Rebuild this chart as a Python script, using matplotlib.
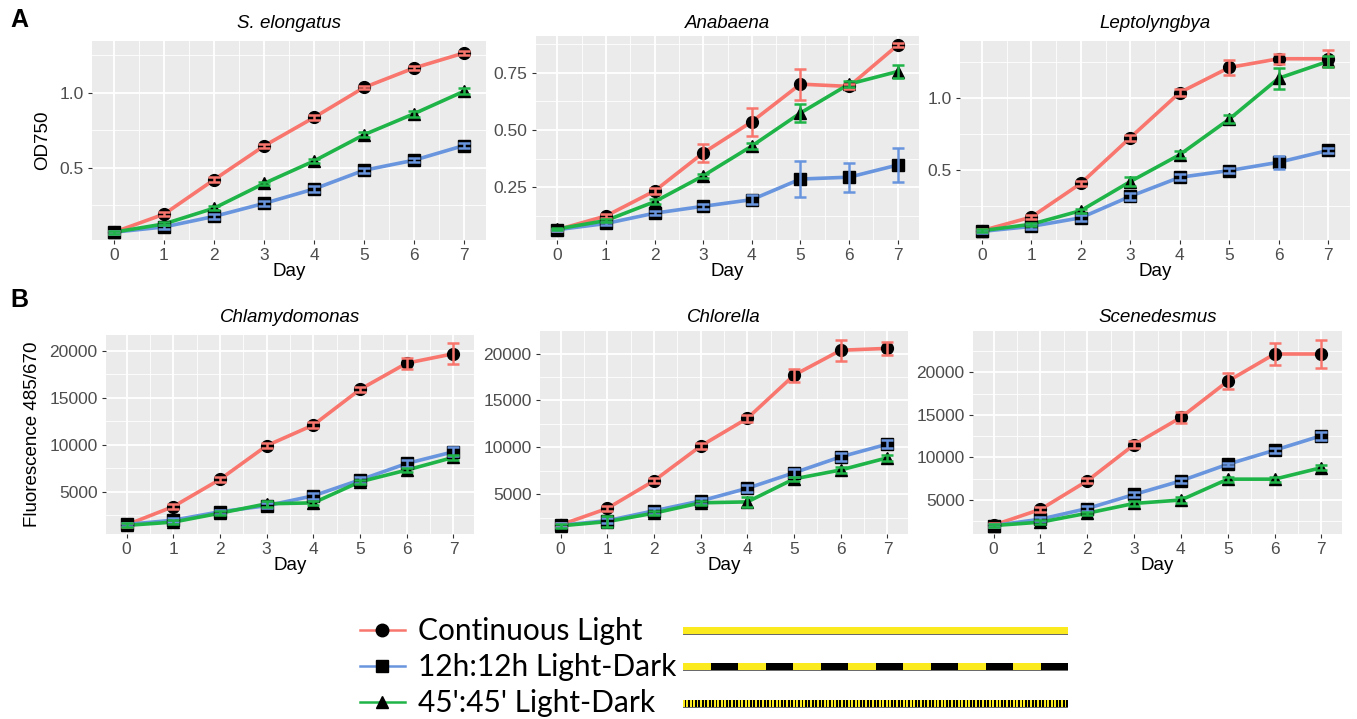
import numpy as np
import matplotlib
matplotlib.use("Agg")
import matplotlib.pyplot as plt
from matplotlib.lines import Line2D
from matplotlib.ticker import FixedLocator

plt.rcParams['font.family'] = ['Liberation Sans', 'DejaVu Sans']

days = [0, 1, 2, 3, 4, 5, 6, 7]
conditions = ["Continuous Light", "12h:12h Light-Dark", "45':45' Light-Dark"]

# ---- Panel A: OD750 ----
selong_cl = [0.07, 0.19, 0.42, 0.645, 0.835, 1.035, 1.165, 1.265]
selong_cl_err = [0.01, 0.015, 0.015, 0.012, 0.015, 0.012, 0.015, 0.012]
selong_12 = [0.07, 0.105, 0.175, 0.262, 0.358, 0.483, 0.55, 0.648]
selong_12_err = [0.01, 0.012, 0.015, 0.015, 0.02, 0.015, 0.015, 0.015]
selong_45 = [0.07, 0.125, 0.23, 0.395, 0.545, 0.72, 0.86, 1.01]
selong_45_err = [0.01, 0.01, 0.012, 0.01, 0.015, 0.015, 0.02, 0.02]

anab_cl = [0.065, 0.125, 0.234, 0.40, 0.536, 0.70, 0.69, 0.87]
anab_cl_err = [0.005, 0.01, 0.012, 0.041, 0.062, 0.068, 0.012, 0.008]
anab_12 = [0.065, 0.092, 0.137, 0.167, 0.196, 0.286, 0.294, 0.347]
anab_12_err = [0.005, 0.008, 0.01, 0.012, 0.02, 0.078, 0.064, 0.076]
anab_45 = [0.068, 0.105, 0.187, 0.30, 0.43, 0.574, 0.70, 0.755]
anab_45_err = [0.005, 0.008, 0.012, 0.01, 0.015, 0.038, 0.012, 0.03]

lepto_cl = [0.075, 0.17, 0.405, 0.725, 1.04, 1.215, 1.276, 1.276]
lepto_cl_err = [0.01, 0.015, 0.02, 0.02, 0.025, 0.05, 0.035, 0.06]
lepto_12 = [0.07, 0.105, 0.165, 0.315, 0.448, 0.495, 0.553, 0.636]
lepto_12_err = [0.01, 0.015, 0.02, 0.025, 0.02, 0.02, 0.045, 0.02]
lepto_45 = [0.075, 0.12, 0.215, 0.418, 0.606, 0.854, 1.14, 1.258]
lepto_45_err = [0.01, 0.01, 0.015, 0.03, 0.025, 0.03, 0.074, 0.04]

# ---- Panel B: Fluorescence 485/670 ----
chlamy_cl = [1450, 3400, 6300, 9900, 12100, 15900, 18700, 19700]
chlamy_cl_err = [200, 250, 250, 250, 300, 300, 600, 1100]
chlamy_12 = [1500, 1950, 2850, 3500, 4550, 6250, 8000, 9250]
chlamy_12_err = [200, 200, 200, 300, 300, 300, 400, 500]
chlamy_45 = [1400, 1750, 2700, 3700, 3800, 6050, 7300, 8650]
chlamy_45_err = [200, 200, 200, 300, 200, 200, 200, 300]

chlor_cl = [1750, 3500, 6450, 10150, 13100, 17700, 20350, 20550]
chlor_cl_err = [200, 300, 250, 300, 400, 700, 1100, 700]
chlor_12 = [1700, 2200, 3250, 4300, 5650, 7300, 9000, 10350]
chlor_12_err = [200, 300, 300, 300, 400, 400, 400, 400]
chlor_45 = [1650, 2100, 3000, 4100, 4200, 6650, 7600, 8900]
chlor_45_err = [200, 600, 200, 200, 500, 200, 300, 300]

scen_cl = [2050, 3900, 7250, 11500, 14700, 18950, 22150, 22150]
scen_cl_err = [200, 300, 300, 400, 600, 950, 1300, 1700]
scen_12 = [2000, 2750, 4000, 5650, 7250, 9200, 10850, 12550]
scen_12_err = [200, 200, 300, 300, 300, 200, 300, 450]
scen_45 = [2000, 2400, 3450, 4600, 5000, 7450, 7450, 8800]
scen_45_err = [200, 200, 200, 300, 300, 300, 300, 300]

colors = ['#F8766D', '#6895DE', '#1FB447']
markers = ['o', 's', '^']

W, H = 1357, 719
fig = plt.figure(figsize=(W / 100, H / 100), dpi=100)


def px_axes(x0, y0, x1, y1):
    return fig.add_axes([x0 / W, 1 - y1 / H, (x1 - x0) / W, (y1 - y0) / H])


panels = [
    dict(box=(92, 41, 486, 240), title='S. elongatus', ylim=(0.018, 1.345),
         major=[0.5, 1.0], minor=[0.25, 0.75, 1.25], fmt='{:.1f}',
         series=[(selong_cl, selong_cl_err), (selong_12, selong_12_err), (selong_45, selong_45_err)],
         ylabel='OD750', row=0),
    dict(box=(536, 36, 919, 240), title='Anabaena', ylim=(0.02, 0.91),
         major=[0.25, 0.5, 0.75], minor=[0.125, 0.375, 0.625, 0.875], fmt='{:.2f}',
         series=[(anab_cl, anab_cl_err), (anab_12, anab_12_err), (anab_45, anab_45_err)],
         ylabel=None, row=0),
    dict(box=(960, 41, 1350, 240), title='Leptolyngbya', ylim=(0.01, 1.40),
         major=[0.5, 1.0], minor=[0.25, 0.75, 1.25], fmt='{:.1f}',
         series=[(lepto_cl, lepto_cl_err), (lepto_12, lepto_12_err), (lepto_45, lepto_45_err)],
         ylabel=None, row=0),
    dict(box=(106, 335, 474, 534), title='Chlamydomonas', ylim=(480, 21700),
         major=[5000, 10000, 15000, 20000], minor=[2500, 7500, 12500, 17500], fmt='{:.0f}',
         series=[(chlamy_cl, chlamy_cl_err), (chlamy_12, chlamy_12_err), (chlamy_45, chlamy_45_err)],
         ylabel='Fluorescence 485/670', row=1),
    dict(box=(540, 331, 908, 534), title='Chlorella', ylim=(780, 22400),
         major=[5000, 10000, 15000, 20000], minor=[2500, 7500, 12500, 17500], fmt='{:.0f}',
         series=[(chlor_cl, chlor_cl_err), (chlor_12, chlor_12_err), (chlor_45, chlor_45_err)],
         ylabel=None, row=1),
    dict(box=(973, 331, 1342, 534), title='Scenedesmus', ylim=(1010, 24850),
         major=[5000, 10000, 15000, 20000], minor=[2500, 7500, 12500, 17500, 22500], fmt='{:.0f}',
         series=[(scen_cl, scen_cl_err), (scen_12, scen_12_err), (scen_45, scen_45_err)],
         ylabel=None, row=1),
]

title_y = [23, 317]
for p in panels:
    ax = px_axes(*p['box'])
    ax.set_facecolor('#EBEBEB')
    for s in ax.spines.values():
        s.set_visible(False)
    ax.set_xlim(-0.44, 7.44)
    ax.set_ylim(*p['ylim'])
    ax.xaxis.set_major_locator(FixedLocator(days))
    ax.xaxis.set_minor_locator(FixedLocator([d + 0.5 for d in days[:-1]]))
    ax.yaxis.set_major_locator(FixedLocator(p['major']))
    ax.yaxis.set_minor_locator(FixedLocator(p['minor']))
    ax.set_yticklabels([p['fmt'].format(v) for v in p['major']])
    ax.grid(which='major', color='white', lw=1.3, zorder=0)
    ax.grid(which='minor', color='white', lw=0.6, zorder=0)
    ax.set_axisbelow(True)
    ax.tick_params(which='major', length=3, width=0.8, color='#333333',
                   labelsize=12.5, labelcolor='#4D4D4D', pad=3)
    ax.tick_params(which='minor', length=0)
    for (vals, errs), c, m in zip(p['series'], colors, markers):
        ax.plot(days, vals, color=c, lw=2.6, zorder=2)
        ax.plot(days, vals, ls='none', marker=m, ms=8.5, mfc='black', mec='black', zorder=3)
        ax.errorbar(days, vals, yerr=errs, fmt='none', ecolor=c, elinewidth=1.8,
                    capsize=4.5, capthick=1.8, zorder=4)
    ax.set_xlabel('Day', fontsize=13.5, labelpad=0, color='black')
    if p['ylabel']:
        ax.set_ylabel(p['ylabel'], fontsize=13.5, labelpad=6, color='black')
    x0, _, x1, _ = p['box']
    fig.text((x0 + x1) / 2 / W, 1 - title_y[p['row']] / H, p['title'], style='italic',
             fontsize=13.5, ha='center', va='center')

fig.text(10 / W, 1 - 20 / H, 'A', fontsize=18, fontweight='bold', ha='left', va='center')
fig.text(10 / W, 1 - 300 / H, 'B', fontsize=18, fontweight='bold', ha='left', va='center')

# ---- legend ----
handles = [Line2D([], [], color=c, lw=1.8, marker=m, ms=9, mfc='black', mec='black')
           for c, m in zip(colors, markers)]
fig.legend(handles, conditions, loc='upper left', bbox_to_anchor=(360 / W, 1 - 617 / H),
           frameon=False, prop={'family': ['Lato', 'DejaVu Sans'], 'size': 21.5},
           handlelength=1.5, handletextpad=0.45, labelspacing=0.27, borderpad=0,
           borderaxespad=0)

# ---- light schedule bars ----
hours_total = 168
periods = [None, 12.0, 0.75]
row_centers = [630, 666, 703]
bar_h = 7
bx = px_axes(683, 612, 1068, 719)
bx.set_xlim(0, hours_total)
bx.set_ylim(719, 612)
bx.axis('off')
yellow = '#FBEA1E'
for per, yc in zip(periods, row_centers):
    yb = yc - bar_h / 2
    bx.broken_barh([(0, hours_total)], (yb, bar_h), facecolors=yellow, linewidth=0)
    bx.plot([0, hours_total], [yb + bar_h, yb + bar_h], color='#666666', lw=0.7)
    if per is not None:
        starts = np.arange(per, hours_total, 2 * per)
        bx.broken_barh([(s, per) for s in starts], (yb, bar_h), facecolors='black',
                       linewidth=0)

fig.savefig('out.png', dpi=100)
